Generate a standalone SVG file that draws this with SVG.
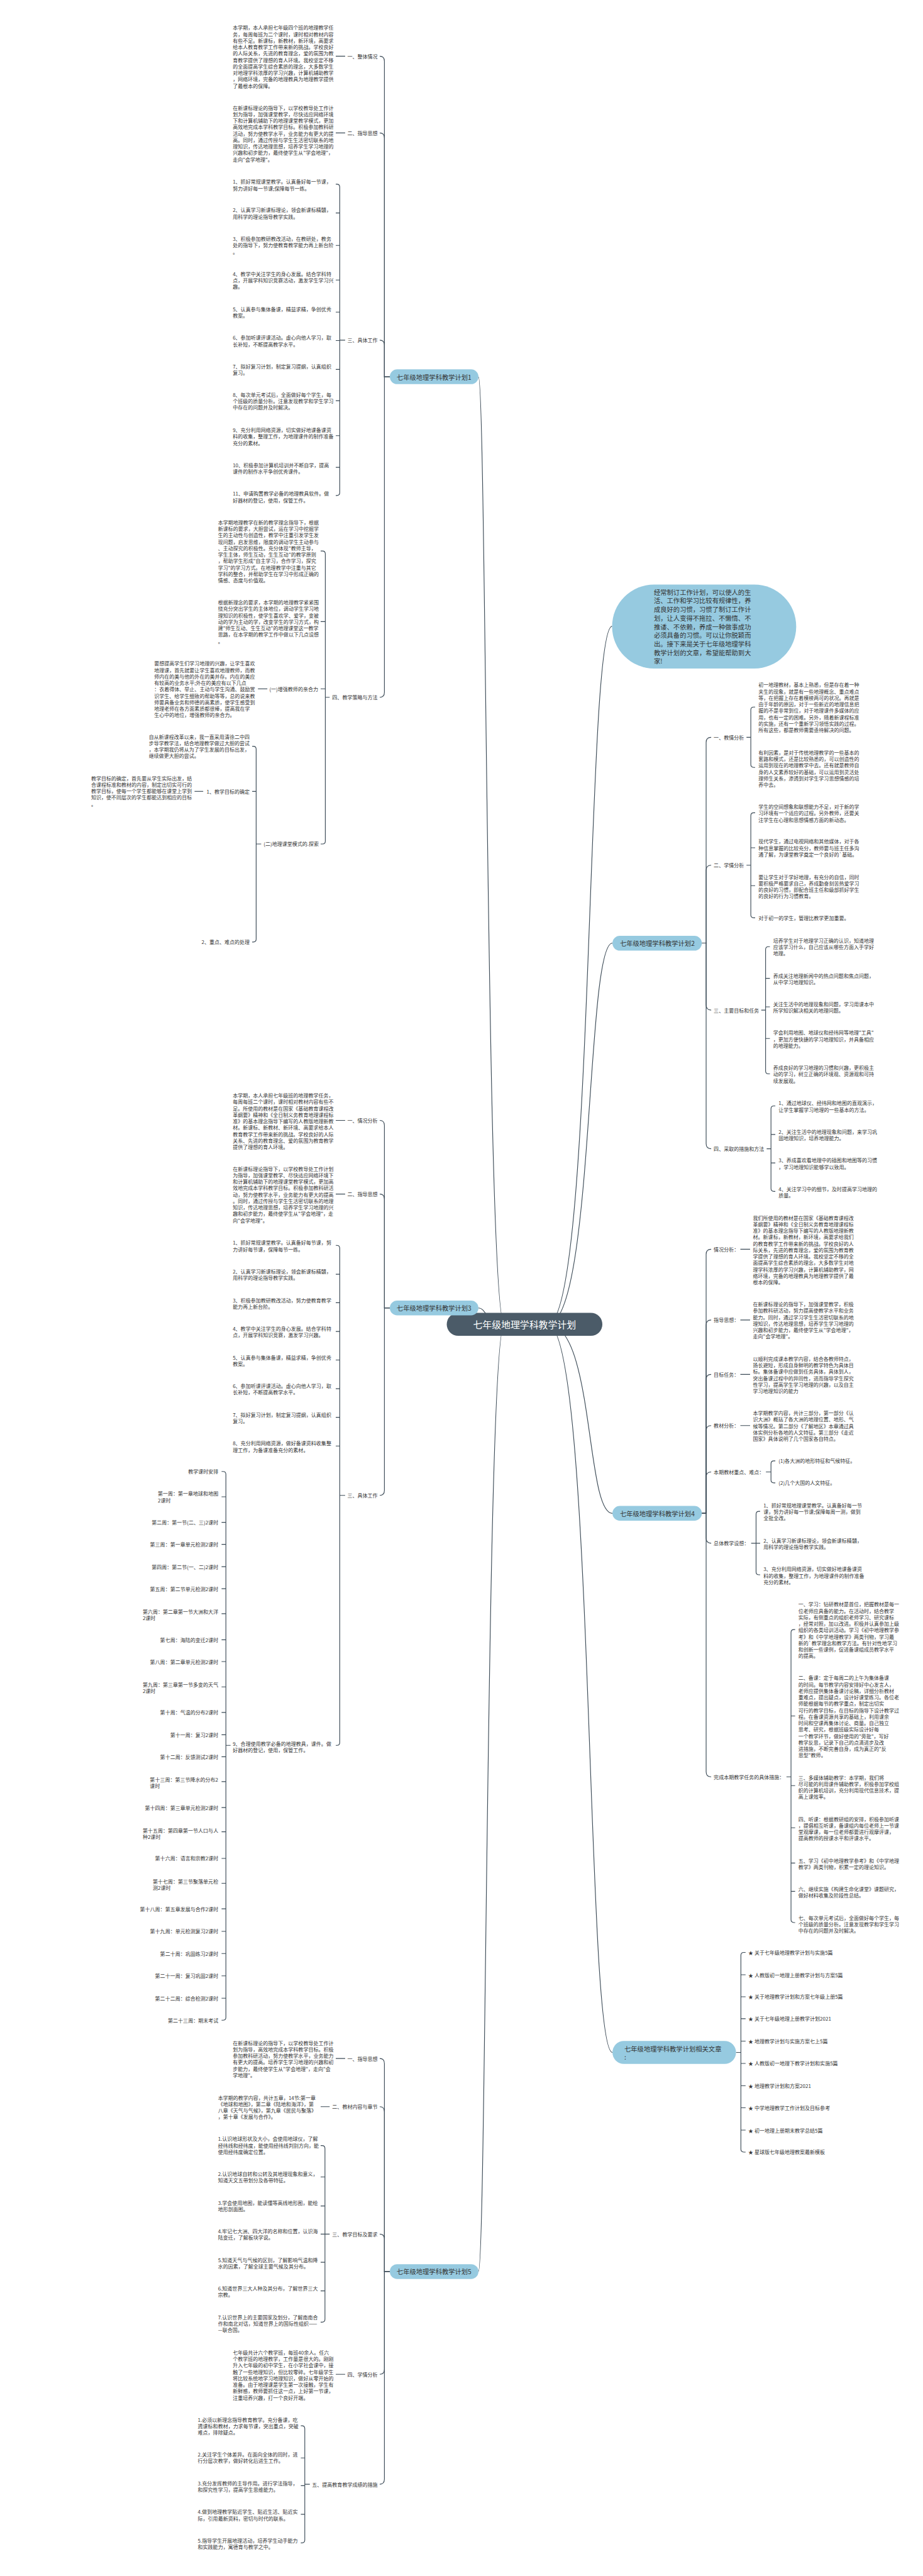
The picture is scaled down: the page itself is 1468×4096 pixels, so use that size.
<svg xmlns="http://www.w3.org/2000/svg" width="1468" height="4096" viewBox="0 0 1468 4096">
<style>
.t{font-family:"Noto Sans CJK SC","Noto Sans",sans-serif;font-size:14px;fill:#333;dominant-baseline:central}
.e{text-anchor:end}
.n1{fill:#96cae0}
.nt{font-family:"Noto Sans CJK SC","Noto Sans",sans-serif;font-size:18px;fill:#333;dominant-baseline:central}
.ct{font-family:"Noto Sans CJK SC","Noto Sans",sans-serif;font-size:26px;fill:#fff;dominant-baseline:central;text-anchor:middle}
.c{fill:none;stroke:#3b4a56;stroke-width:2}
</style>
<rect width="1468" height="4096" fill="#fff"/>
<g transform="scale(0.573)">
<g id="connectors" class="c">
<path d="M1400 3675 C1350 3675 1350 1046 1328 1046"/>
<path d="M1400 3675 C1350 3675 1350 3629.5 1328 3629.5"/>
<path d="M1400 3675 C1350 3675 1350 6303 1328 6303"/>
<path d="M1520 3675 C1650 3675 1625 1738 1699 1738"/>
<path d="M1520 3675 C1650 3675 1625 2617 1700 2617"/>
<path d="M1520 3675 C1650 3675 1625 4199.5 1700 4199.5"/>
<path d="M1520 3675 C1650 3675 1625 5695.5 1700 5695.5"/>
<path d="M1082 1046 H1067 V170 Q1067 156 1054 156"/>
<path d="M1082 1046 H1067 V383 Q1067 369 1054 369"/>
<path d="M1082 1046 H1067 V958 Q1067 944 1054 944"/>
<path d="M1082 1046 H1067 V1921 Q1067 1935 1054 1935"/>
<path d="M958 156 H932 M958 369 H932"/>
<path d="M932 511 H935 Q943 511 943 519 V1367 Q943 1375 935 1375 H932 M943 591 H932 M943 681 H932 M943 777 H932 M943 866 H932 M943 945 H932 M943 1025 H932 M943 1112 H932 M943 1209 H932 M943 1297 H932 M958 944 H943"/>
<path d="M890 1529 H895 Q903 1529 903 1537 V2334 Q903 2342 895 2342 H890 M903 1725 H890 M903 1911.5 H890 M915 1935 H903"/>
<path d="M742 1911.5 H716"/>
<path d="M700 2071 H703 Q711 2071 711 2079 V2606 Q711 2614 703 2614 H700 M711 2196 H700 M725 2342 H711"/>
<path d="M564 2196 H540"/>
<path d="M1082 3629.5 H1067 V3123 Q1067 3109 1054 3109"/>
<path d="M1082 3629.5 H1067 V3327.6 Q1067 3313.6 1054 3313.6"/>
<path d="M1082 3629.5 H1067 V4135.6 Q1067 4149.6 1054 4149.6"/>
<path d="M958 3109 H932 M958 3313.6 H932"/>
<path d="M932 3456 H935 Q943 3456 943 3464 V4835.4 Q943 4843.4 935 4843.4 H932 M943 3536 H932 M943 3615 H932 M943 3694.7 H932 M943 3774 H932 M943 3853.7 H932 M943 3933 H932 M943 4012.6 H932 M958 4149.6 H943"/>
<path d="M615 4083.3 H619 Q627 4083.3 627 4091.3 V5598 Q627 5606 619 5606 H615 M627 4153.6 H615 M627 4224.5 H615 M627 4285.6 H615 M627 4347.4 H615 M627 4408.5 H615 M627 4478 H615 M627 4550.4 H615 M627 4610.9 H615 M627 4681 H615 M627 4752 H615 M627 4813.9 H615 M627 4875 H615 M627 4944 H615 M627 5016 H615 M627 5083 H615 M627 5157 H615 M627 5226 H615 M627 5297 H615 M627 5359.5 H615 M627 5421 H615 M627 5483 H615 M627 5545 H615 M640 4843.4 H627"/>
<path d="M1082 6303 H1067 V5726.3 Q1067 5712.3 1054 5712.3"/>
<path d="M1082 6303 H1067 V5860 Q1067 5846 1054 5846"/>
<path d="M1082 6303 H1067 V6213.5 Q1067 6199.5 1054 6199.5"/>
<path d="M1082 6303 H1067 V6574.6 Q1067 6588.6 1054 6588.6"/>
<path d="M1082 6303 H1067 V6879.7 Q1067 6893.7 1054 6893.7"/>
<path d="M958 5712.3 H932 M915 5846 H890 M958 6588.6 H932"/>
<path d="M890 5954 H894 Q902 5954 902 5962 V6436 Q902 6444 894 6444 H890 M902 6041 H890 M902 6121.6 H890 M902 6199.5 H890 M902 6277.7 H890 M902 6357 H890 M915 6199.5 H902"/>
<path d="M835 6731.4 H838 Q846 6731.4 846 6739.4 V7048.6 Q846 7056.6 838 7056.6 H835 M846 6820.7 H835 M846 6897.6 H835 M846 6977 H835 M860 6893.7 H846"/>
<path d="M1948 2617 H1960 V2060 Q1960 2046 1974 2046"/>
<path d="M1948 2617 H1960 V2415 Q1960 2401 1974 2401"/>
<path d="M1948 2617 H1960 V2789 Q1960 2803 1974 2803"/>
<path d="M1948 2617 H1960 V3173.7 Q1960 3187.7 1974 3187.7"/>
<path d="M2096 1962 H2092 Q2084 1962 2084 1970 V2121.5 Q2084 2129.5 2092 2129.5 H2096 M2072 2046 H2084"/>
<path d="M2096 2255.5 H2092 Q2084 2255.5 2084 2263.5 V2539 Q2084 2547 2092 2547 H2096 M2084 2352.5 H2096 M2084 2457.6 H2096 M2072 2401 H2084"/>
<path d="M2137 2627 H2133 Q2125 2627 2125 2635 V2972 Q2125 2980 2133 2980 H2137 M2125 2715 H2137 M2125 2794 H2137 M2125 2881.7 H2137 M2113 2803 H2125"/>
<path d="M2152 3069 H2148 Q2140 3069 2140 3077 V3298 Q2140 3306 2148 3306 H2152 M2140 3148 H2152 M2140 3227 H2152 M2128 3187.7 H2140"/>
<path d="M1948 4199.5 H1960 V3480.6 Q1960 3466.6 1974 3466.6"/>
<path d="M1948 4199.5 H1960 V3677 Q1960 3663 1974 3663"/>
<path d="M1948 4199.5 H1960 V3827.8 Q1960 3813.8 1974 3813.8"/>
<path d="M1948 4199.5 H1960 V3970 Q1960 3956 1974 3956"/>
<path d="M1948 4199.5 H1960 V4098.7 Q1960 4084.7 1974 4084.7"/>
<path d="M1948 4199.5 H1960 V4268.4 Q1960 4282.4 1974 4282.4"/>
<path d="M1948 4199.5 H1960 V4916.7 Q1960 4930.7 1974 4930.7"/>
<path d="M2055 3466.6 H2082 M2055 3663 H2082 M2055 3813.8 H2082 M2055 3956 H2082"/>
<path d="M2152 4053.8 H2148 Q2140 4053.8 2140 4061.8 V4107 Q2140 4115 2148 4115 H2152 M2126 4084.7 H2140"/>
<path d="M2110 4194 H2106.6 Q2098.6 4194 2098.6 4202 V4362 Q2098.6 4370 2106.6 4370 H2110 M2085 4282.4 H2110"/>
<path d="M2207 4522 H2203.6 Q2195.6 4522 2195.6 4530 V5327 Q2195.6 5335 2203.6 5335 H2207 M2195.6 4761.7 H2207 M2195.6 4955 H2207 M2195.6 5072 H2207 M2195.6 5170 H2207 M2195.6 5248.5 H2207 M2183 4930.7 H2195.6"/>
<path d="M2069.5 5418 H2064.5 Q2056.5 5418 2056.5 5426 V5964 Q2056.5 5972 2064.5 5972 H2069.5 M2056.5 5480 H2069.5 M2056.5 5541 H2069.5 M2056.5 5602 H2069.5 M2056.5 5664 H2069.5 M2056.5 5726 H2069.5 M2056.5 5788 H2069.5 M2056.5 5849 H2069.5 M2056.5 5911 H2069.5 M2043 5695.5 H2056.5"/>
</g>

<g id="center">
<rect x="1240" y="3643" width="432" height="64" rx="32" fill="#4b5b68"/>
<text class="ct" x="1456" y="3675">七年级地理学科教学计划</text>
</g>

<g id="intro">
<rect x="1699" y="1622" width="511" height="233" rx="116.5" class="n1"/>
<text class="nt" x="1815" y="1641.8"><tspan x="1815">经常制订工作计划，可以使人的生</tspan><tspan x="1815" dy="23.9">活、工作和学习比较有规律性，养</tspan><tspan x="1815" dy="23.9">成良好的习惯，习惯了制订工作计</tspan><tspan x="1815" dy="23.9">划，让人变得不拖拉、不懒惰、不</tspan><tspan x="1815" dy="23.9">推诿、不依赖，养成一种做事成功</tspan><tspan x="1815" dy="23.9">必须具备的习惯。可以让你脱颖而</tspan><tspan x="1815" dy="23.9">出。接下来是关于七年级地理学科</tspan><tspan x="1815" dy="23.9">教学计划的文章，希望能帮助到大</tspan><tspan x="1815" dy="23.9">家!</tspan></text>
</g>

<g id="plan1">
<rect x="1082" y="1025" width="246" height="41" rx="20.5" class="n1"/>
<text class="nt" x="1101" y="1046">七年级地理学科教学计划1</text>
</g>
<g id="p1-labels">
<text class="t e" x="1048" y="156">一、整体情况</text>
<text class="t e" x="1048" y="369">二、指导思想</text>
<text class="t e" x="1048" y="944">三、具体工作</text>
<text class="t e" x="1048" y="1935">四、教学策略与方法</text>
<text class="t e" x="883" y="1911.5">(一)增强教师的亲合力</text>
<text class="t e" x="885" y="2342">(二)地理课堂模式的.探索</text>
<text class="t e" x="693" y="2196">1、教学目标的确定</text>
<text class="t e" x="693" y="2614">2、重点、难点的处理</text>
</g>
<g id="p1-text">
<text class="t" x="646" y="75.6"><tspan x="646">本学期，本人承担七年级四个班的地理教学任</tspan><tspan x="646" dy="17.9">务，每周每班为二个课时，课时相对教材内容</tspan><tspan x="646" dy="17.9">有些不足。新课标，新教材，新环境，高要求</tspan><tspan x="646" dy="17.9">给本人教育教学工作带来新的挑战。学校良好</tspan><tspan x="646" dy="17.9">的人际关系，先进的教育理念，爱的氛围为教</tspan><tspan x="646" dy="17.9">育教学提供了理想的育人环境。我校坚定不移</tspan><tspan x="646" dy="17.9">的全面提高学生综合素质的理念，大多数学生</tspan><tspan x="646" dy="17.9">对地理学科浓厚的学习兴趣，计算机辅助教学</tspan><tspan x="646" dy="17.9">，网络环境，完备的地理教具为地理教学提供</tspan><tspan x="646" dy="17.9">了最根本的保障。</tspan></text>
<text class="t" x="646" y="297.6"><tspan x="646">在新课标理论的指导下，以学校教导处工作计</tspan><tspan x="646" dy="17.9">划为指导，加强课堂教学，尽快适应网络环境</tspan><tspan x="646" dy="17.9">下和计算机辅助下的地理课堂教学模式，更加</tspan><tspan x="646" dy="17.9">高效地完成本学科教学目标。积极参加教科研</tspan><tspan x="646" dy="17.9">活动，努力使教学水平，业务能力有更大的提</tspan><tspan x="646" dy="17.9">高。同时，通过传授与学生生活密切联系的地</tspan><tspan x="646" dy="17.9">理知识，传达地理思想，培养学生学习地理的</tspan><tspan x="646" dy="17.9">兴趣和初步能力，最终使学生从"学会地理"，</tspan><tspan x="646" dy="17.9">走向"会学地理"。</tspan></text>
<text class="t" x="646" y="503.3"><tspan x="646">1、抓好常规课堂教学。认真备好每一节课，</tspan><tspan x="646" dy="17.9">努力讲好每一节课;保障每节一练。</tspan></text>
<text class="t" x="646" y="582"><tspan x="646">2、认真学习新课标理论，领会新课标精髓，</tspan><tspan x="646" dy="17.9">用科学的理论指导教学实践。</tspan></text>
<text class="t" x="646" y="661.6"><tspan x="646">3、积极参加教研教改活动，在教研处，教务</tspan><tspan x="646" dy="17.9">处的指导下，努力使教育教学能力再上新台阶</tspan><tspan x="646" dy="17.9">。</tspan></text>
<text class="t" x="646" y="758.8"><tspan x="646">4、教学中关注学生的身心发展。结合学科特</tspan><tspan x="646" dy="17.9">点，开展学科知识竞赛活动，激发学生学习兴</tspan><tspan x="646" dy="17.9">趣。</tspan></text>
<text class="t" x="646" y="856.7"><tspan x="646">5、认真参与集体备课，精益求精，争创优秀</tspan><tspan x="646" dy="17.9">教案。</tspan></text>
<text class="t" x="646" y="936.2"><tspan x="646">6、参加听课评课活动。虚心向他人学习，取</tspan><tspan x="646" dy="17.9">长补短，不断提高教学水平。</tspan></text>
<text class="t" x="646" y="1015.7"><tspan x="646">7、拟好复习计划，制定复习提纲，认真组织</tspan><tspan x="646" dy="17.9">复习。</tspan></text>
<text class="t" x="646" y="1094.2"><tspan x="646">8、每次单元考试后，全面做好每个学生，每</tspan><tspan x="646" dy="17.9">个班级的质量分析。注意发现教学和学生学习</tspan><tspan x="646" dy="17.9">中存在的问题并及时解决。</tspan></text>
<text class="t" x="646" y="1192"><tspan x="646">9、充分利用网络资源，切实做好地课备课资</tspan><tspan x="646" dy="17.9">料的收集，整理工作，为地理课件的制作准备</tspan><tspan x="646" dy="17.9">充分的素材。</tspan></text>
<text class="t" x="646" y="1289.4"><tspan x="646">10、积极参加计算机培训并不断自学，提高</tspan><tspan x="646" dy="17.9">课件的制作水平争创优秀课件。</tspan></text>
<text class="t" x="646" y="1368.9"><tspan x="646">11、申请购置教学必备的地理教具软件。做</tspan><tspan x="646" dy="17.9">好器材的登记，使用，保管工作。</tspan></text>
<text class="t" x="605" y="1448.4"><tspan x="605">本学期地理教学在新的教学理念指导下，根据</tspan><tspan x="605" dy="17.9">新课标的要求，大胆尝试，运在学习中挖掘学</tspan><tspan x="605" dy="17.9">生的主动性与创造性，教学中注重引发学生发</tspan><tspan x="605" dy="17.9">现问题，启发思维，限度的调动学生主动参与</tspan><tspan x="605" dy="17.9">、主动探究的积极性。充分体现"教师主导，</tspan><tspan x="605" dy="17.9">学生主体，师生互动，生生互动"的教学原则</tspan><tspan x="605" dy="17.9">，帮助学生形成"自主学习，合作学习，探究</tspan><tspan x="605" dy="17.9">学习"的学习方式。在地理教学中注重与其它</tspan><tspan x="605" dy="17.9">学科的整合，并帮助学生在学习中形成正确的</tspan><tspan x="605" dy="17.9">情感、态度与价值观。</tspan></text>
<text class="t" x="605" y="1670.4"><tspan x="605">根据新理念的要求，本学期的地理教学紧紧围</tspan><tspan x="605" dy="17.9">绕充分突出学生的主体地位，调动学生学习地</tspan><tspan x="605" dy="17.9">理知识的积极性，使学生喜欢学、爱学，变被</tspan><tspan x="605" dy="17.9">动的学为主动的学，改变学生的学习方式，构</tspan><tspan x="605" dy="17.9">建"师生互动、生生互动"的地理课堂这一教学</tspan><tspan x="605" dy="17.9">思路，在本学期的教学工作中做以下几点设想</tspan><tspan x="605" dy="17.9">。</tspan></text>
<text class="t" x="428" y="1840"><tspan x="428">要想提高学生们学习地理的兴趣，让学生喜欢</tspan><tspan x="428" dy="17.9">地理课，首先就要让学生喜欢地理教师，而教</tspan><tspan x="428" dy="17.9">师内在的美与他的外在的美并存。内在的美应</tspan><tspan x="428" dy="17.9">有较高的业务水平;外在的美应有以下几点</tspan><tspan x="428" dy="17.9">：衣着得体、举止、主动与学生沟通、鼓励赏</tspan><tspan x="428" dy="17.9">识学生、给学生细致的帮助等等，总的说来教</tspan><tspan x="428" dy="17.9">师要具备业务和师德的高素质，使学生感受到</tspan><tspan x="428" dy="17.9">地理老师在各方面素质都很棒，提高我在学</tspan><tspan x="428" dy="17.9">生心中的地位，增强教师的亲合力。</tspan></text>
<text class="t" x="413" y="2043"><tspan x="413">自从新课程改革以来，我一直采用清徐二中四</tspan><tspan x="413" dy="17.9">步导学教学法，结合地理教学做过大胆的尝试</tspan><tspan x="413" dy="17.9">，本学期我仍将从为了学生发展的目标出发，</tspan><tspan x="413" dy="17.9">继续做更大胆的尝试。</tspan></text>
<text class="t" x="253" y="2158.3"><tspan x="253">教学目标的确定，首先要从学生实际出发，结</tspan><tspan x="253" dy="17.9">合课程标准和教材的内容，制定出切实可行的</tspan><tspan x="253" dy="17.9">教学目标，使每一个学生都能够在课堂上学到</tspan><tspan x="253" dy="17.9">知识，使不同层次的学生都能达到相应的目标</tspan><tspan x="253" dy="17.9">。</tspan></text>
</g>

<g id="plan3">
<rect x="1082" y="3609" width="246" height="41" rx="20.5" class="n1"/>
<text class="nt" x="1101" y="3629.5">七年级地理学科教学计划3</text>
</g>
<g id="p3-labels">
<text class="t e" x="1048" y="3109">一、情况分析</text>
<text class="t e" x="1048" y="3313.6">二、指导思想</text>
<text class="t e" x="1048" y="4149.6">三、具体工作</text>
</g>
<g id="p3-text">
<text class="t" x="646" y="3038.6"><tspan x="646">本学期，本人承担七年级班的地理教学任务，</tspan><tspan x="646" dy="17.9">每周每班二个课时，课时相对教材内容有些不</tspan><tspan x="646" dy="17.9">足。所使用的教材是在国家《基础教育课程改</tspan><tspan x="646" dy="17.9">革纲要》精神和《全日制义务教育地理课程标</tspan><tspan x="646" dy="17.9">准》的基本理念指导下编写的人教版地理新教</tspan><tspan x="646" dy="17.9">材。新课标、新教材、新环境、高要求给本人</tspan><tspan x="646" dy="17.9">教育教学工作带来新的挑战。学校良好的人际</tspan><tspan x="646" dy="17.9">关系、先进的教育理念、爱的氛围为教育教学</tspan><tspan x="646" dy="17.9">提供了理想的育人环境。</tspan></text>
<text class="t" x="646" y="3242"><tspan x="646">在新课标理论指导下，以学校教导处工作计划</tspan><tspan x="646" dy="17.9">为指导，加强课堂教学、尽快适应网络环境下</tspan><tspan x="646" dy="17.9">和计算机辅助下的地理课堂教学模式，更加高</tspan><tspan x="646" dy="17.9">效地完成本学科教学目标。积极参加教科研活</tspan><tspan x="646" dy="17.9">动，努力使教学水平，业务能力有更大的提高</tspan><tspan x="646" dy="17.9">。同时，通过传授与学生生活密切联系的地理</tspan><tspan x="646" dy="17.9">知识，传达地理思想，培养学生学习地理的兴</tspan><tspan x="646" dy="17.9">趣和初步能力，最终使学生从"学会地理"，走</tspan><tspan x="646" dy="17.9">向"会学地理"。</tspan></text>
<text class="t" x="646" y="3447.6"><tspan x="646">1、抓好常规课堂教学。认真备好每节课，努</tspan><tspan x="646" dy="17.9">力讲好每节课，保障每节一练。</tspan></text>
<text class="t" x="646" y="3527"><tspan x="646">2、认真学习新课标理论，领会新课标精髓，</tspan><tspan x="646" dy="17.9">用科学的理论指导教学实践。</tspan></text>
<text class="t" x="646" y="3606.6"><tspan x="646">3、积极参加教研教改活动，努力使教育教学</tspan><tspan x="646" dy="17.9">能力再上新台阶。</tspan></text>
<text class="t" x="646" y="3686"><tspan x="646">4、教学中关注学生的身心发展。结合学科特</tspan><tspan x="646" dy="17.9">点，开展学科知识竞赛，激发学习兴趣。</tspan></text>
<text class="t" x="646" y="3765.6"><tspan x="646">5、认真参与集体备课，精益求精，争创优秀</tspan><tspan x="646" dy="17.9">教案。</tspan></text>
<text class="t" x="646" y="3845"><tspan x="646">6、参加听课评课活动。虚心向他人学习，取</tspan><tspan x="646" dy="17.9">长补短，不断提高教学水平。</tspan></text>
<text class="t" x="646" y="3924.6"><tspan x="646">7、拟好复习计划，制定复习提纲，认真组织</tspan><tspan x="646" dy="17.9">复习。</tspan></text>
<text class="t" x="646" y="4004"><tspan x="646">8、充分利用网络资源，做好备课资料收集整</tspan><tspan x="646" dy="17.9">理工作，为备课准备充分的素材。</tspan></text>
<text class="t" x="646" y="4837"><tspan x="646">9、合理使用教学必备的地理教具，课件。做</tspan><tspan x="646" dy="17.9">好器材的登记，使用，保管工作。</tspan></text>
</g>
<g id="p3-weeks">
<text class="t e" x="606" y="4083.3">教学课时安排</text>
<text class="t" x="438" y="4143.7"><tspan x="438">第一周：第一章地球和地图</tspan><tspan x="438" dy="17.9">2课时</tspan></text>
<text class="t e" x="606" y="4224.5">第二周：第一节(二、三)2课时</text>
<text class="t e" x="606" y="4285.6">第三周：第一章单元检测2课时</text>
<text class="t e" x="606" y="4347.4">第四周：第二节(一、二)2课时</text>
<text class="t e" x="606" y="4408.5">第五周：第二节单元检测2课时</text>
<text class="t" x="396" y="4471"><tspan x="396">第六周：第二章第一节大洲和大洋</tspan><tspan x="396" dy="17.9">2课时</tspan></text>
<text class="t e" x="606" y="4550.4">第七周：海陆的变迁2课时</text>
<text class="t e" x="606" y="4610.9">第八周：第二章单元检测2课时</text>
<text class="t" x="396" y="4673"><tspan x="396">第九周：第三章第一节多变的天气</tspan><tspan x="396" dy="17.9">2课时</tspan></text>
<text class="t e" x="606" y="4752">第十周：气温的分布2课时</text>
<text class="t e" x="606" y="4813.9">第十一周：复习2课时</text>
<text class="t e" x="606" y="4875">第十二周：反馈测试2课时</text>
<text class="t" x="416" y="4937"><tspan x="416">第十三周：第三节降水的分布2</tspan><tspan x="416" dy="17.9">课时</tspan></text>
<text class="t e" x="606" y="5016">第十四周：第三章单元检测2课时</text>
<text class="t" x="396" y="5078.6"><tspan x="396">第十五周：第四章第一节人口与人</tspan><tspan x="396" dy="17.9">种2课时</tspan></text>
<text class="t e" x="606" y="5157">第十六周：语言和宗教2课时</text>
<text class="t" x="424" y="5219.6"><tspan x="424">第十七周：第三节聚落单元检</tspan><tspan x="424" dy="17.9">测2课时</tspan></text>
<text class="t e" x="606" y="5297">第十八周：第五章发展与合作2课时</text>
<text class="t e" x="606" y="5359.5">第十九周：单元检测复习2课时</text>
<text class="t e" x="606" y="5421">第二十周：巩固练习2课时</text>
<text class="t e" x="606" y="5483">第二十一周：复习巩固2课时</text>
<text class="t e" x="606" y="5545">第二十二周：综合检测2课时</text>
<text class="t e" x="606" y="5606">第二十三周：期末考试</text>
</g>

<g id="plan5">
<rect x="1082" y="6283" width="246" height="41" rx="20.5" class="n1"/>
<text class="nt" x="1101" y="6303">七年级地理学科教学计划5</text>
</g>
<g id="p5-labels">
<text class="t e" x="1048" y="5712.3">一、指导思想</text>
<text class="t e" x="1048" y="5846">二、教材内容与章节</text>
<text class="t e" x="1048" y="6199.5">三、教学目标及要求</text>
<text class="t e" x="1048" y="6588.6">四、学情分析</text>
<text class="t e" x="1048" y="6893.7">五、提高教育教学成绩的措施</text>
</g>
<g id="p5-text">
<text class="t" x="646" y="5667.6"><tspan x="646">在新课标理论的指导下，以学校教导处工作计</tspan><tspan x="646" dy="17.9">划为指导，高效地完成本学科教学目标。积极</tspan><tspan x="646" dy="17.9">参加教科研活动，努力使教学水平，业务能力</tspan><tspan x="646" dy="17.9">有更大的提高。培养学生学习地理的兴趣和初</tspan><tspan x="646" dy="17.9">步能力，最终使学生从"学会地理"，走向"会</tspan><tspan x="646" dy="17.9">学地理"。</tspan></text>
<text class="t" x="605" y="5819.4"><tspan x="605">本学期的教学内容，共计五章，14节:第一章</tspan><tspan x="605" dy="17.9">《地球和地图》，第二章《陆地和海洋》，第</tspan><tspan x="605" dy="17.9">八章《天气与气候》，第九章《居民与聚落》</tspan><tspan x="605" dy="17.9">，第十章《发展与合作》。</tspan></text>
<text class="t" x="605" y="5934.4"><tspan x="605">1.认识地球形状及大小，会使用地球仪，了解</tspan><tspan x="605" dy="17.9">经纬线和经纬度，能使用经纬线判别方向，能</tspan><tspan x="605" dy="17.9">使用经纬度确定位置。</tspan></text>
<text class="t" x="605" y="6031.6"><tspan x="605">2.认识地球自转和公转及其地理现象和意义，</tspan><tspan x="605" dy="17.9">知道天文五带划分及各带特征。</tspan></text>
<text class="t" x="605" y="6111.8"><tspan x="605">3.学会使用地图，能读懂等高线地形图，能绘</tspan><tspan x="605" dy="17.9">地形剖面图。</tspan></text>
<text class="t" x="605" y="6190.4"><tspan x="605">4.牢记七大洲、四大洋的名称和位置，认识海</tspan><tspan x="605" dy="17.9">陆变迁，了解板块学说。</tspan></text>
<text class="t" x="605" y="6270"><tspan x="605">5.知道天气与气候的区别，了解影响气温和降</tspan><tspan x="605" dy="17.9">水的因素，了解全球主要气候及其分布。</tspan></text>
<text class="t" x="605" y="6349.4"><tspan x="605">6.知道世界三大人种及其分布，了解世界三大</tspan><tspan x="605" dy="17.9">宗教。</tspan></text>
<text class="t" x="605" y="6429"><tspan x="605">7.认识世界上的主要国家及划分，了解南南合</tspan><tspan x="605" dy="17.9">作和南北对话，知道世界上的国际性组织——</tspan><tspan x="605" dy="17.9">—联合国。</tspan></text>
<text class="t" x="646" y="6526.7"><tspan x="646">七年级共计六个教学班，每班40余人。任六</tspan><tspan x="646" dy="17.9">个教学班的地理教学，工作量是很大的。刚刚</tspan><tspan x="646" dy="17.9">升入七年级的初中学生，在小学社会课中，接</tspan><tspan x="646" dy="17.9">触了一些地理知识，但比较零碎。七年级学生</tspan><tspan x="646" dy="17.9">将比较系统地学习地理知识，做好从零开始的</tspan><tspan x="646" dy="17.9">准备。由于地理课是学生第一次接触，学生有</tspan><tspan x="646" dy="17.9">新鲜感，教师要抓住这一点，上好第一节课，</tspan><tspan x="646" dy="17.9">注重培养兴趣，打一个良好开端。</tspan></text>
<text class="t" x="549" y="6713"><tspan x="549">1.必须以新理念指导教育教学。充分备课，吃</tspan><tspan x="549" dy="17.9">透课标和教材，力求每节课，突出重点，突破</tspan><tspan x="549" dy="17.9">难点，排除疑点。</tspan></text>
<text class="t" x="549" y="6809.6"><tspan x="549">2.关注学生个体差异。在面向全体的同时，进</tspan><tspan x="549" dy="17.9">行分层次教学，做好转化后进生工作。</tspan></text>
<text class="t" x="549" y="6889.8"><tspan x="549">3.充分发挥教师的主导作用。进行学法指导，</tspan><tspan x="549" dy="17.9">和探究性学习，提高学生思维能力。</tspan></text>
<text class="t" x="549" y="6969.3"><tspan x="549">4.做到地理教学贴近学生、贴近生活、贴近实</tspan><tspan x="549" dy="17.9">际，引用最新资料，密切与时代的联系。</tspan></text>
<text class="t" x="549" y="7048.8"><tspan x="549">5.指导学生开展地理活动，培养学生动手能力</tspan><tspan x="549" dy="17.9">和实践能力，寓德育与教学之中。</tspan></text>
</g>

<g id="plan2">
<rect x="1700" y="2597" width="248" height="41" rx="20.5" class="n1"/>
<text class="nt" x="1720.6" y="2617">七年级地理学科教学计划2</text>
</g>
<g id="p2-labels">
<text class="t" x="1981" y="2046">一、教情分析</text>
<text class="t" x="1981" y="2401">二、学情分析</text>
<text class="t" x="1981" y="2803">三、主要目标和任务</text>
<text class="t" x="1981" y="3187.7">四、采取的措施和方法</text>
</g>
<g id="p2-text">
<text class="t" x="2105" y="1899.3"><tspan x="2105">初一地理教材，基本上熟悉，但是存在着一种</tspan><tspan x="2105" dy="17.9">夹生的现象，就是有一些地理概念、重点难点</tspan><tspan x="2105" dy="17.9">等，在把握上存在着模棱两可的状况。再就是</tspan><tspan x="2105" dy="17.9">由于年龄的原因，对于一些新近的地理信息把</tspan><tspan x="2105" dy="17.9">握的不是非常到位，对于地理课件多媒体的应</tspan><tspan x="2105" dy="17.9">用，也有一定的困难。另外，随着新课程标准</tspan><tspan x="2105" dy="17.9">的实施，还有一个重新学习领悟实践的过程。</tspan><tspan x="2105" dy="17.9">所有这些，都是教师需要亟待解决的问题。</tspan></text>
<text class="t" x="2105" y="2087.1"><tspan x="2105">有利因素，是对于传统地理教学的一些基本的</tspan><tspan x="2105" dy="17.9">套路和模式，还是比较熟悉的，可以创造性的</tspan><tspan x="2105" dy="17.9">运用到现在的地理教学中去。还有就是教师自</tspan><tspan x="2105" dy="17.9">身的人文素养较好的基础，可以运用到灵活处</tspan><tspan x="2105" dy="17.9">理师生关系，渗透到对学生学习思想情感的培</tspan><tspan x="2105" dy="17.9">养中去。</tspan></text>
<text class="t" x="2105" y="2237.4"><tspan x="2105">学生的空间想象和联想能力不足，对于新的学</tspan><tspan x="2105" dy="17.9">习环境有一个适应的过程。另外教师，还要关</tspan><tspan x="2105" dy="17.9">注学生在心理和思想情感方面的新动态。</tspan></text>
<text class="t" x="2105" y="2334"><tspan x="2105">现代学生，通过电视网络和其他媒体，对于各</tspan><tspan x="2105" dy="17.9">种信息掌握的比较充分，教师要与班主任多沟</tspan><tspan x="2105" dy="17.9">通了解，为课堂教学奠定一个良好的`基础。</tspan></text>
<text class="t" x="2105" y="2432"><tspan x="2105">要让学生对于学好地理，有充分的自信，同时</tspan><tspan x="2105" dy="17.9">要积极严格要求自己，养成勤奋刻苦热爱学习</tspan><tspan x="2105" dy="17.9">的良好的习惯，即配合班主任和级部抓好学生</tspan><tspan x="2105" dy="17.9">的良好的行为习惯教育。</tspan></text>
<text class="t" x="2105" y="2547">对于初一的学生，管理比教学更加重要。</text>
<text class="t" x="2146" y="2608.4"><tspan x="2146">培养学生对于地理学习正确的认识，知道地理</tspan><tspan x="2146" dy="17.9">应该学习什么，自己应该从哪些方面入手学好</tspan><tspan x="2146" dy="17.9">地理。</tspan></text>
<text class="t" x="2146" y="2706"><tspan x="2146">养成关注地理新闻中的热点问题和焦点问题，</tspan><tspan x="2146" dy="17.9">从中学习地理知识。</tspan></text>
<text class="t" x="2146" y="2784.7"><tspan x="2146">关注生活中的地理现象和问题，学习用课本中</tspan><tspan x="2146" dy="17.9">所学知识解决相关的地理问题。</tspan></text>
<text class="t" x="2146" y="2864.7"><tspan x="2146">学会利用地图、地球仪和经纬网等地理"工具"</tspan><tspan x="2146" dy="17.9">，更加方便快捷的学习地理知识，并具备相应</tspan><tspan x="2146" dy="17.9">的地理能力。</tspan></text>
<text class="t" x="2146" y="2962"><tspan x="2146">养成良好的学习地理的习惯和兴趣，更积极主</tspan><tspan x="2146" dy="17.9">动的学习，树立正确的环境观、资源观和可持</tspan><tspan x="2146" dy="17.9">续发展观。</tspan></text>
<text class="t" x="2161" y="3060"><tspan x="2161">1、通过地球仪、经纬网和地图的直观演示，</tspan><tspan x="2161" dy="17.9">让学生掌握学习地理的一些基本的方法。</tspan></text>
<text class="t" x="2161" y="3139"><tspan x="2161">2、关注生活中的地理现象和问题，来学习巩</tspan><tspan x="2161" dy="17.9">固地理知识，培养地理能力。</tspan></text>
<text class="t" x="2161" y="3219"><tspan x="2161">3、养成喜欢看地理中的插图和地图等的习惯</tspan><tspan x="2161" dy="17.9">，学习地理知识能够学以致用。</tspan></text>
<text class="t" x="2161" y="3298"><tspan x="2161">4、关注学习中的细节，及时提高学习地理的</tspan><tspan x="2161" dy="17.9">质量。</tspan></text>
</g>

<g id="plan4">
<rect x="1700" y="4179" width="248" height="41" rx="20.5" class="n1"/>
<text class="nt" x="1720.6" y="4199.5">七年级地理学科教学计划4</text>
</g>
<g id="p4-labels">
<text class="t" x="1981" y="3466.6">情况分析：</text>
<text class="t" x="1981" y="3663">指导思想：</text>
<text class="t" x="1981" y="3813.8">目标任务：</text>
<text class="t" x="1981" y="3956">教材分析：</text>
<text class="t" x="1981" y="4084.7">本期教材重点、难点：</text>
<text class="t" x="1981" y="4282.4">总体教学设想：</text>
<text class="t" x="1981" y="4930.7">完成本期教学任务的具体措施：</text>
</g>
<g id="p4-text">
<text class="t" x="2090" y="3378"><tspan x="2090">我们所使用的教材是在国家《基础教育课程改</tspan><tspan x="2090" dy="17.9">革纲要》精神和《全日制义务教育地理课程标</tspan><tspan x="2090" dy="17.9">准》的基本理念指导下编写的人教版地理新教</tspan><tspan x="2090" dy="17.9">材。新课标，新教材，新环境，高要求给我们</tspan><tspan x="2090" dy="17.9">的教育教学工作带来新的挑战。学校良好的人</tspan><tspan x="2090" dy="17.9">际关系，先进的教育理念，爱的氛围为教育教</tspan><tspan x="2090" dy="17.9">学提供了理想的育人环境。我校坚定不移的全</tspan><tspan x="2090" dy="17.9">面提高学生综合素质的理念，大多数学生对地</tspan><tspan x="2090" dy="17.9">理学科浓厚的学习兴趣，计算机辅助教学，网</tspan><tspan x="2090" dy="17.9">络环境，完备的地理教具为地理教学提供了最</tspan><tspan x="2090" dy="17.9">根本的保障。</tspan></text>
<text class="t" x="2090" y="3618"><tspan x="2090">在新课标理论的指导下，加强课堂教学，积极</tspan><tspan x="2090" dy="17.9">参加教科研活动，努力提高使教学水平和业务</tspan><tspan x="2090" dy="17.9">能力。同时，通过学习学生生活密切联系的地</tspan><tspan x="2090" dy="17.9">理知识，传达地理思想，培养学生学习地理的</tspan><tspan x="2090" dy="17.9">兴趣和初步能力，最终使学生从"学会地理"，</tspan><tspan x="2090" dy="17.9">走向"会学地理"。</tspan></text>
<text class="t" x="2090" y="3769.6"><tspan x="2090">以顺利完成课本教学内容，结合各教师特点，</tspan><tspan x="2090" dy="17.9">扬长避短，形成自身鲜明的教学特色为具体目</tspan><tspan x="2090" dy="17.9">标。集体备课中应做到任务具体，具体到人，</tspan><tspan x="2090" dy="17.9">突出备课过程中的异同性，进而指导学生探究</tspan><tspan x="2090" dy="17.9">性学习，提高学生学习地理的兴趣，以及自主</tspan><tspan x="2090" dy="17.9">学习地理知识的能力</tspan></text>
<text class="t" x="2090" y="3919.8"><tspan x="2090">本学期教学内容，共计三部分，第一部分《认</tspan><tspan x="2090" dy="17.9">识大洲》概括了各大洲的地理位置、地形、气</tspan><tspan x="2090" dy="17.9">候等情况。第二部分《了解地区》本章通过具</tspan><tspan x="2090" dy="17.9">体实例分析各地的人文特征。第三部分《走近</tspan><tspan x="2090" dy="17.9">国家》具体说明了几个国家各自特点。</tspan></text>
<text class="t" x="2161" y="4053.8">(1)各大洲的地形特征和气候特征。</text>
<text class="t" x="2161" y="4115">(2)几个大国的人文特征。</text>
<text class="t" x="2119" y="4176"><tspan x="2119">1、抓好常规地理课堂教学。认真备好每一节</tspan><tspan x="2119" dy="17.9">课，努力讲好每一节课;保障每周一测，做到</tspan><tspan x="2119" dy="17.9">全批全改。</tspan></text>
<text class="t" x="2119" y="4273.3"><tspan x="2119">2、认真学习新课标理论，领会新课标精髓，</tspan><tspan x="2119" dy="17.9">用科学的理论指导教学实践。</tspan></text>
<text class="t" x="2119" y="4353"><tspan x="2119">3、充分利用网络资源，切实做好地课备课资</tspan><tspan x="2119" dy="17.9">料的收集，整理工作，为地理课件的制作准备</tspan><tspan x="2119" dy="17.9">充分的素材。</tspan></text>
<text class="t" x="2216" y="4450.9"><tspan x="2216">一、学习：钻研教材是首位，把握教材是每一</tspan><tspan x="2216" dy="17.9">位老师应具备的能力。在活动时，结合教学</tspan><tspan x="2216" dy="17.9">实际，有侧重点的组织老师学习、研究课标</tspan><tspan x="2216" dy="17.9">，经常对照，加以改进。积极并认真参加上级</tspan><tspan x="2216" dy="17.9">组织的各类培训活动。学习《初中地理教学参</tspan><tspan x="2216" dy="17.9">考》和《中学地理教学》两类刊物，学习最</tspan><tspan x="2216" dy="17.9">新的`教学理念和教学方法。有针对性地学习</tspan><tspan x="2216" dy="17.9">和创新一些课例，促进备课组成员教学水平</tspan><tspan x="2216" dy="17.9">的提高。</tspan></text>
<text class="t" x="2216" y="4655"><tspan x="2216">二、备课：定于每周二的上午为集体备课</tspan><tspan x="2216" dy="17.9">的时间。每节教学内容安排好中心发言人，</tspan><tspan x="2216" dy="17.9">老师应提供集体备课讨论稿，详细分析教材</tspan><tspan x="2216" dy="17.9">重难点，提出疑点，设计好课堂练习。各位老</tspan><tspan x="2216" dy="17.9">师能根据每节的教学重点，制定出切实</tspan><tspan x="2216" dy="17.9">可行的教学目标，在目标的指导下设计教学过</tspan><tspan x="2216" dy="17.9">程。在备课资源共享的基础上，利用课余</tspan><tspan x="2216" dy="17.9">时间和空课再集体讨论、商量。自己独立</tspan><tspan x="2216" dy="17.9">思考、研究，根据班级实际设计好每</tspan><tspan x="2216" dy="17.9">一个教学环节，做好使用的"旁批"，写好</tspan><tspan x="2216" dy="17.9">教学反思，记录下自己的点滴进步及改</tspan><tspan x="2216" dy="17.9">进措施，不断完善自身，成为真正的"反</tspan><tspan x="2216" dy="17.9">思型"教师。</tspan></text>
<text class="t" x="2216" y="4931.3"><tspan x="2216">三、多媒体辅助教学：本学期，我们将</tspan><tspan x="2216" dy="17.9">尽可能的利用课件辅助教学，积极参加学校组</tspan><tspan x="2216" dy="17.9">织的计算机培训，充分利用现代信息技术，提</tspan><tspan x="2216" dy="17.9">高上课效率。</tspan></text>
<text class="t" x="2216" y="5046.5"><tspan x="2216">四、听课：根据教研组的安排，积极参加听课</tspan><tspan x="2216" dy="17.9">，提倡相互听课，备课组内每位老师上一节课</tspan><tspan x="2216" dy="17.9">堂观摩课，每一位老师都要进行观摩评课，</tspan><tspan x="2216" dy="17.9">提高教师的授课水平和评课水平。</tspan></text>
<text class="t" x="2216" y="5162.2"><tspan x="2216">五、学习《初中地理教学参考》和《中学地理</tspan><tspan x="2216" dy="17.9">教学》两类刊物，积累一定的理论知识。</tspan></text>
<text class="t" x="2216" y="5241.2"><tspan x="2216">六、继续实施《构建生命化课堂》课题研究，</tspan><tspan x="2216" dy="17.9">做好材料收集及阶段性总结。</tspan></text>
<text class="t" x="2216" y="5320.6"><tspan x="2216">七、每次单元考试后，全面做好每个学生，每</tspan><tspan x="2216" dy="17.9">个班级的质量分析。注意发现教学和学生学习</tspan><tspan x="2216" dy="17.9">中存在的问题并及时解决。</tspan></text>
</g>

<g id="related">
<rect x="1700" y="5663.5" width="343" height="64" rx="32" class="n1"/>
<text class="nt" x="1733" y="5684"><tspan x="1733">七年级地理学科教学计划相关文章</tspan><tspan x="1733" dy="22">:</tspan></text>
</g>
<g id="related-items">
<text class="t" x="2077" y="5418">★ 关于七年级地理教学计划与实施5篇</text>
<text class="t" x="2077" y="5480">★ 人教版初一地理上册教学计划与方案5篇</text>
<text class="t" x="2077" y="5541">★ 关于地理教学计划和方案七年级上册5篇</text>
<text class="t" x="2077" y="5602">★ 关于七年级地理上册教学计划2021</text>
<text class="t" x="2077" y="5664">★ 地理教学计划与实施方案七上5篇</text>
<text class="t" x="2077" y="5726">★ 人教版初一地理下教学计划和实施5篇</text>
<text class="t" x="2077" y="5788">★ 地理教学计划和方案2021</text>
<text class="t" x="2077" y="5849">★ 中学地理教学工作计划及目标参考</text>
<text class="t" x="2077" y="5911">★ 初一地理上册期末教学总结5篇</text>
<text class="t" x="2077" y="5972">★ 星球版七年级地理教案最新模板</text>
</g>
</g>
</svg>
